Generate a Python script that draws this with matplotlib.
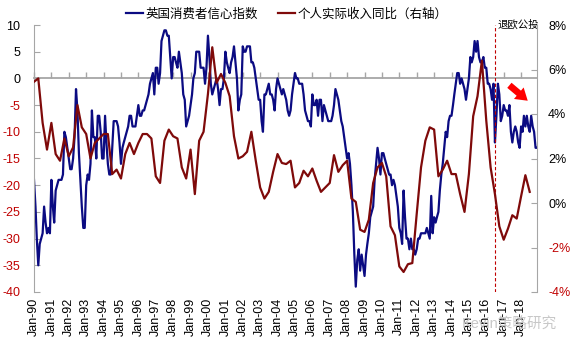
import numpy as np
import pandas as pd
import matplotlib
matplotlib.use('Agg')
import matplotlib.pyplot as plt
import matplotlib.dates as mdates
from matplotlib.ticker import FuncFormatter

plt.rcParams['font.family'] = ['Liberation Sans', 'Noto Sans CJK SC', 'DejaVu Sans']
plt.rcParams['axes.unicode_minus'] = False
CJK = ['Noto Sans CJK SC', 'DejaVu Sans']

# GfK consumer confidence, monthly from Jan-1990
confidence = [
    -19, -24, -30, -35, -31, -30, -29, -24, -27, -29, -28, -29,   # 1990
    -19, -24, -27, -21, -20, -19, -19, -19, -18, -10, -11, -13,   # 1991
    -15, -17, -17, -15, -11, -2, -6, -14, -19, -24, -28, -28,     # 1992
    -20, -18, -19, -16, -6, -11, -11, -15, -7, -7, -10, -15,      # 1993
    -15, -7, -12, -16, -18, -18, -13, -8, -8, -8, -9, -12,        # 1994
    -16, -13, -12, -11, -10, -9, -7, -7, -9, -9, -9, -7,          # 1995
    -5, -7, -7, -6, -6, -5, -4, -3, -1, 0, 1, -3,                 # 1996
    2, 2, -1, 1, 7, 8, 9, 9, 8, 8, 4, 0,                          # 1997
    4, 4, 3, 2, 5, 3, 1, -3, -4, -9, -8, -7,                      # 1998
    -5, -3, 0, 1, 5, 5, 5, 2, 2, 2, -1, 2,                        # 1999
    8, 4, -1, -3, -2, -1, 0, -2, -5, -2, -2, 0,                   # 2000
    5, 3, 2, 1, 3, 4, 6, 3, 0, -6, -4, -3,                        # 2001
    6, 5, 5, 6, 6, 6, 3, 3, 2, 0, -2, -4,                         # 2002
    -4, -8, -10, -3, -3, -2, -1, -3, -3, -4, -6, -2,              # 2003
    0, -1, -2, -3, -2, -3, -4, -6, -7, -6, -3, -1,                # 2004
    1, 0, 0, -1, -1, -1, -3, -6, -7, -8, -8, -9,                  # 2005
    -3, -5, -5, -4, -7, -4, -4, -8, -5, -6, -7, -8,               # 2006
    -8, -8, -7, -5, -2, -3, -4, -6, -8, -9, -11, -13,             # 2007
    -15, -14, -16, -20, -25, -33, -39, -34, -32, -36, -33, -35,   # 2008
    -37, -33, -31, -29, -26, -25, -24, -19, -16, -13, -15, -18,   # 2009
    -14, -14, -15, -16, -17, -18, -18, -20, -19, -20, -22, -24,   # 2010
    -28, -29, -31, -21, -26, -30, -30, -32, -30, -32, -32, -33,   # 2011
    -32, -30, -30, -29, -29, -29, -29, -28, -29, -30, -22, -29,   # 2012
    -26, -27, -26, -25, -21, -18, -16, -13, -10, -11, -8, -7,     # 2013
    -7, -5, -3, -1, 1, 1, -1, 0, -1, -2, -4, -2,                  # 2014
    0, 4, 3, 4, 7, 5, 7, 4, 3, 3, 4, 2,                           # 2015
    2, -1, -1, -2, -4, -1, -12, -7, -1, -3, -8, -7,               # 2016
    -5, -6, -6, -7, -5, -10, -12, -10, -9, -10, -12, -13,         # 2017
    -9, -10, -7, -9, -7, -9, -10, -7, -9, -10, -13, -13,          # 2018
]

# real personal income, % y/y, quarterly from 1990Q1
income_yoy = [
    5.45, 5.6, 3.6, 2.4,    # 1990
    3.6, 2.2, 1.9, 2.9,     # 1991
    2.1, 2.5, 4.4, 3.4,     # 1992
    3.1, 2.0, 2.7, 2.9,     # 1993
    3.1, 3.1, 1.3, 1.5,     # 1994
    1.1, 2.2, 2.7, 2.2,     # 1995
    2.7, 3.1, 3.1, 2.9,     # 1996
    1.2, 0.9, 2.8, 3.3,     # 1997
    3.0, 2.9, 1.6, 1.1,     # 1998
    2.4, 0.4, 2.8, 3.2,     # 1999
    4.9, 7.0, 5.4, 5.8,     # 2000
    5.4, 4.8, 3.0, 2.0,     # 2001
    2.1, 2.3, 3.2, 1.9,     # 2002
    0.7, 0.2, 0.5, 1.4,     # 2003
    2.2, 1.8, 1.75, 1.9,    # 2004
    0.7, 0.9, 1.45, 1.2,    # 2005
    1.55, 1.0, 0.5, 0.7,    # 2006
    0.9, 2.15, 1.4, 1.7,    # 2007
    1.9, 0.2, 0.05, -1.2,   # 2008
    -1.3, -0.75, 0.9, 1.6,  # 2009
    1.8, 1.2, -1.05, -1.45, # 2010
    -2.85, -3.1, -2.75, -2.7,  # 2011
    -0.5, 1.6, 2.8, 3.4,    # 2012
    3.3, 1.2, 1.5, 1.9,     # 2013
    1.3, 1.3, 0.4, -0.4,    # 2014
    1.3, 3.9, 4.8, 6.4,     # 2015
    3.7, 1.6, 0.4, -1.05,   # 2016
    -1.65, -1.15, -0.55, -0.7,  # 2017
    0.3, 1.25, 0.5,         # 2018
]

conf_dates = pd.date_range('1990-01-01', periods=len(confidence), freq='MS')
income_dates = pd.date_range('1990-01-01', periods=len(income_yoy), freq='QS')
brexit_date = pd.Timestamp('2016-06-23')

NAVY = '#0B0B82'
MAROON = '#7F0A0A'
RED = '#C00000'
GRAY = '#A6A6A6'

fig = plt.figure(figsize=(5.73, 3.51), dpi=100)
ax = fig.add_axes([34/573, 1 - 292/351, (537 - 34)/573, (292 - 25)/351])
ax2 = ax.twinx()

l1, = ax.plot(conf_dates, confidence, color=NAVY, lw=1.6, zorder=2,
              label='英国消费者信心指数')
l2, = ax2.plot(income_dates, income_yoy, color=MAROON, lw=1.6,
               label='个人实际收入同比（右轴）')

ax.set_xlim(pd.Timestamp('1990-01-01'), pd.Timestamp('2018-12-01'))
ax.set_ylim(-40, 10)
ax2.set_ylim(-4, 8)

# left axis
ax.set_yticks(np.arange(-40, 11, 5))
ax.tick_params(axis='y', direction='in', length=4, color=GRAY, pad=10, labelsize=9)
for val, lab in zip(ax.get_yticks(), ax.get_yticklabels()):
    lab.set_color(RED if val < 0 else 'black')

# right axis
ax2.set_yticks(np.arange(-4, 9, 2))
ax2.yaxis.set_major_formatter(FuncFormatter(lambda v, p: f'{v:.0f}%'))
ax2.tick_params(axis='y', direction='in', length=4, color=GRAY, pad=8, labelsize=9)
for val, lab in zip(ax2.get_yticks(), ax2.get_yticklabels()):
    lab.set_color(RED if val < 0 else 'black')

# x axis line crosses at zero, year ticks pointing up, no labels there
ax.spines['bottom'].set_position(('data', 0))
ax.spines['bottom'].set_color(GRAY)
ax.spines['bottom'].set_linewidth(1.3)
ax.spines['bottom'].set_zorder(1)
ax.xaxis.set_major_locator(mdates.YearLocator(1, month=1, day=1))
ax.tick_params(axis='x', direction='in', length=4, width=1, color=GRAY,
               labelbottom=False)

# date labels along the bottom
bot = ax.secondary_xaxis('bottom')
bot.spines['bottom'].set_visible(False)
bot.xaxis.set_major_locator(mdates.YearLocator(1, month=1, day=1))
bot.xaxis.set_major_formatter(mdates.DateFormatter('%b-%y'))
bot.tick_params(axis='x', length=0, pad=4, labelsize=9, labelrotation=90)

ax.spines['top'].set_visible(False)
ax.spines['left'].set_color(GRAY)
ax.spines['right'].set_visible(False)
for s in ('top', 'bottom', 'left'):
    ax2.spines[s].set_visible(False)
ax2.spines['right'].set_color(GRAY)

# referendum marker
ax.axvline(brexit_date, color=RED, lw=0.8, ls=(0, (3, 2)), zorder=3)
ax.annotate('退欧公投', xy=(brexit_date, 1.0), xycoords=('data', 'axes fraction'),
            xytext=(2, 0), textcoords='offset points', ha='left', va='center',
            fontsize=7.5, family=CJK)

ax.annotate('', xy=(0.921, 0.713), xytext=(0.889, 0.757), xycoords='figure fraction',
            arrowprops=dict(arrowstyle='simple,head_length=0.7,head_width=0.9,tail_width=0.4',
                            color='#FF0000', lw=0, shrinkA=0, shrinkB=0, mutation_scale=12))

fig.legend(handles=[l1, l2], loc='center', bbox_to_anchor=(0.5, 0.96), ncol=2,
           frameon=False, prop={'family': CJK, 'size': 9}, handlelength=1.4,
           handletextpad=0.15, columnspacing=1.6)

# faint watermark, it sits over the date labels as in the source image
fig.text(0.806, 0.074, 'Kevin策略研究', fontsize=10.5, color='#C8C8C8',
         ha='left', va='center', family=['Liberation Sans', 'Noto Sans CJK SC'])

fig.savefig('out.png', dpi=100)
